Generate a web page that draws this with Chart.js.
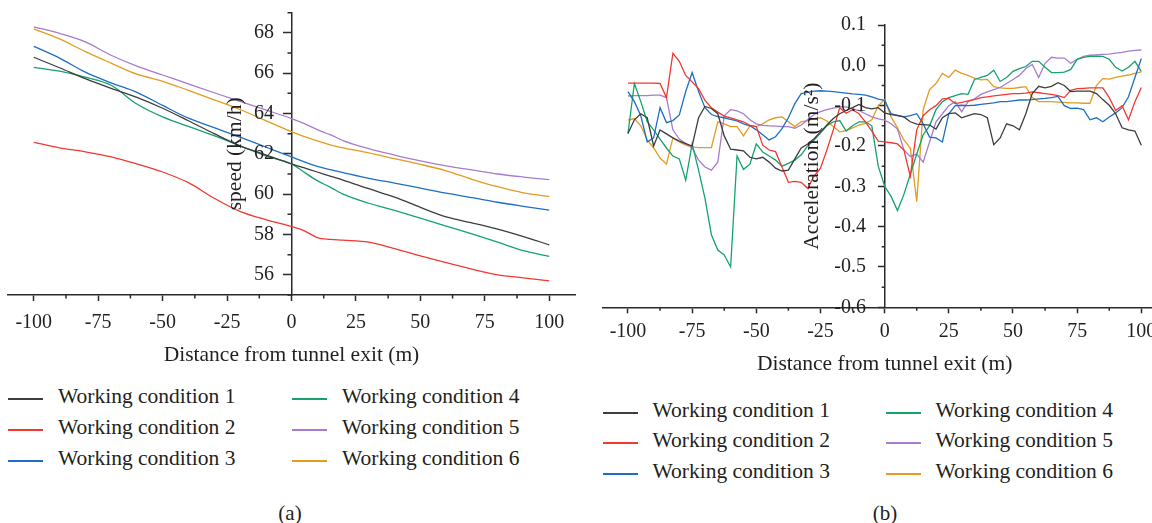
<!DOCTYPE html>
<html><head><meta charset="utf-8">
<script src="https://cdn.jsdelivr.net/npm/chart.js@4.4.1/dist/chart.umd.min.js"></script>
<style>
html,body{margin:0;padding:0;background:#fff;overflow:hidden;width:1152px;height:523px;}
#wrap{position:relative;width:1152px;height:523px;overflow:hidden;font-family:"Liberation Serif","Times New Roman",serif;color:#231f20;}
canvas{position:absolute;top:0;}
#ca{left:0;}
#cb{left:595px;}
.li{position:absolute;white-space:nowrap;font-size:21.5px;line-height:24px;height:24px;}
.li .sw{position:absolute;left:0;top:11px;width:35px;height:2px;}
.li .tx{position:absolute;left:50px;top:-3px;}
.cap{position:absolute;font-size:21px;line-height:24px;transform:translateX(-50%);}
</style></head>
<body><div id="wrap">
<canvas id="ca" width="580" height="370"></canvas>
<canvas id="cb" width="580" height="380"></canvas>
<div id="legA"></div><div id="legB"></div>
<div class="cap" style="left:290px;top:501px;">(a)</div>
<div class="cap" style="left:885px;top:501px;">(b)</div>
</div>
<script>
// ---------- data ----------
const seriesNames = ['Working condition 1','Working condition 2','Working condition 3','Working condition 4','Working condition 5','Working condition 6'];
const seriesColors = ['#3d3d3d','#f2382f','#1e6ec4','#13a36b','#a67ccf','#e39b20'];
const xTicks = [-100,-75,-50,-25,0,25,50,75,100];
const speedTicks = [56,58,60,62,64,66,68];
const accTicks = [-0.6,-0.5,-0.4,-0.3,-0.2,-0.1,0.0,0.1];

const distA = [-100,-90,-80,-70,-60,-50,-40,-30,-20,-10,0,5,10,15,20,30,40,50,60,70,80,90,100];
const speed1 = [66.79,66.27,65.73,65.25,64.8,64.26,63.64,63.0,62.4,61.95,61.5,61.3,61.1,60.9,60.7,60.27,59.85,59.35,58.87,58.58,58.27,57.9,57.49];
const speed2 = [62.57,62.3,62.1,61.85,61.5,61.1,60.57,59.8,59.15,58.74,58.4,58.18,57.85,57.76,57.72,57.62,57.3,56.94,56.6,56.28,56.0,55.85,55.7];
const speed3 = [67.33,66.75,66.05,65.52,65.05,64.4,63.77,63.3,62.83,62.34,61.85,61.6,61.38,61.22,61.07,60.78,60.55,60.3,60.05,59.83,59.6,59.4,59.21];
const speed4 = [66.29,66.1,65.8,65.4,64.47,63.83,63.36,62.9,62.4,61.9,61.5,61.08,60.67,60.35,60.0,59.55,59.2,58.81,58.42,58.03,57.62,57.2,56.91];
const speed5 = [68.3,67.97,67.55,66.89,66.35,65.91,65.47,65.03,64.6,64.18,63.75,63.5,63.2,62.95,62.66,62.26,61.94,61.65,61.4,61.2,61.0,60.85,60.72];
const speed6 = [68.2,67.7,67.07,66.5,65.95,65.6,65.15,64.68,64.2,63.65,63.1,62.85,62.64,62.45,62.3,62.05,61.76,61.48,61.16,60.74,60.37,60.07,59.89];

const distB = [-100,-97.5,-95,-92.5,-90,-87.5,-85,-82.5,-80,-77.5,
  -75,-72.5,-70,-67.5,-65,-62.5,-60,-57.5,-55,-52.5,
  -50,-47.5,-45,-42.5,-40,-37.5,-35,-32.5,-30,-27.5,
  -25,-22.5,-20,-17.5,-15,-12.5,-10,-7.5,-5,-2.5,
  0,2.5,5,7.5,10,12.5,15,17.5,20,22.5,
  25,27.5,30,32.5,35,37.5,40,42.5,45,47.5,
  50,52.5,55,57.5,60,62.5,65,67.5,70,72.5,
  75,77.5,80,82.5,85,87.5,90,92.5,95,97.5,100];
const acc1 = [-0.169,-0.135,-0.12,-0.13,-0.2,-0.16,-0.17,-0.18,-0.188,-0.194,
  -0.2,-0.13,-0.102,-0.107,-0.12,-0.175,-0.208,-0.21,-0.212,-0.228,
  -0.232,-0.228,-0.24,-0.255,-0.262,-0.26,-0.232,-0.205,-0.195,-0.182,
  -0.165,-0.148,-0.132,-0.12,-0.112,-0.105,-0.097,-0.105,-0.108,-0.105,
  -0.118,-0.122,-0.124,-0.128,-0.14,-0.146,-0.147,-0.148,-0.158,-0.13,
  -0.12,-0.118,-0.13,-0.125,-0.12,-0.122,-0.13,-0.197,-0.18,-0.145,
  -0.15,-0.16,-0.12,-0.07,-0.052,-0.056,-0.052,-0.043,-0.05,-0.065,
  -0.064,-0.064,-0.064,-0.07,-0.085,-0.099,-0.12,-0.155,-0.16,-0.163,-0.198];
const acc2 = [-0.044,-0.044,-0.044,-0.044,-0.044,-0.045,-0.08,0.03,0.01,-0.025,
  -0.041,-0.058,-0.087,-0.105,-0.116,-0.126,-0.13,-0.135,-0.14,-0.149,
  -0.152,-0.198,-0.21,-0.214,-0.252,-0.29,-0.288,-0.29,-0.305,-0.275,
  -0.255,-0.21,-0.16,-0.105,-0.119,-0.11,-0.12,-0.14,-0.163,-0.188,
  -0.19,-0.192,-0.195,-0.21,-0.275,-0.16,-0.125,-0.11,-0.1,-0.083,
  -0.082,-0.095,-0.092,-0.088,-0.085,-0.08,-0.078,-0.076,-0.074,-0.072,
  -0.07,-0.07,-0.069,-0.066,-0.068,-0.07,-0.072,-0.075,-0.08,-0.062,
  -0.058,-0.057,-0.056,-0.056,-0.056,-0.08,-0.112,-0.1,-0.135,-0.09,-0.055];
const acc3 = [-0.065,-0.09,-0.125,-0.19,-0.18,-0.105,-0.142,-0.137,-0.123,-0.065,
  -0.018,-0.065,-0.105,-0.122,-0.127,-0.13,-0.134,-0.138,-0.145,-0.15,
  -0.16,-0.172,-0.185,-0.177,-0.157,-0.13,-0.095,-0.07,-0.067,-0.064,
  -0.063,-0.064,-0.065,-0.067,-0.069,-0.071,-0.072,-0.074,-0.078,-0.084,
  -0.087,-0.12,-0.125,-0.128,-0.125,-0.12,-0.145,-0.178,-0.18,-0.19,
  -0.12,-0.1,-0.099,-0.1,-0.099,-0.097,-0.095,-0.093,-0.09,-0.09,
  -0.088,-0.086,-0.086,-0.085,-0.083,-0.082,-0.08,-0.077,-0.1,-0.107,
  -0.106,-0.11,-0.135,-0.13,-0.14,-0.128,-0.118,-0.105,-0.078,-0.03,0.017];
const acc4 = [-0.169,-0.045,-0.09,-0.14,-0.16,-0.183,-0.205,-0.225,-0.232,-0.285,
  -0.195,-0.26,-0.33,-0.42,-0.458,-0.47,-0.5,-0.225,-0.258,-0.245,
  -0.195,-0.215,-0.225,-0.235,-0.25,-0.243,-0.235,-0.222,-0.2,-0.185,
  -0.168,-0.15,-0.14,-0.137,-0.163,-0.15,-0.14,-0.14,-0.15,-0.25,
  -0.3,-0.325,-0.36,-0.32,-0.27,-0.22,-0.172,-0.15,-0.11,-0.09,
  -0.08,-0.075,-0.07,-0.072,-0.035,-0.03,-0.025,-0.012,-0.04,-0.03,
  -0.015,-0.008,-0.003,0.01,0.01,-0.005,-0.018,-0.018,-0.017,-0.01,
  0.015,0.02,0.022,0.023,0.022,0.015,-0.005,-0.014,-0.005,0.01,-0.015];
const acc5 = [-0.076,-0.075,-0.075,-0.075,-0.074,-0.074,-0.08,-0.16,-0.183,-0.194,
  -0.205,-0.235,-0.252,-0.26,-0.24,-0.125,-0.11,-0.113,-0.12,-0.135,
  -0.145,-0.149,-0.15,-0.151,-0.152,-0.152,-0.156,-0.148,-0.135,-0.122,
  -0.115,-0.11,-0.106,-0.103,-0.103,-0.108,-0.112,-0.12,-0.128,-0.133,
  -0.136,-0.145,-0.158,-0.21,-0.226,-0.22,-0.24,-0.19,-0.14,-0.12,
  -0.1,-0.09,-0.115,-0.09,-0.083,-0.072,-0.066,-0.06,-0.055,-0.045,
  -0.035,-0.025,-0.008,0.002,-0.03,0.005,0.02,0.018,0.018,0.005,
  0.015,0.022,0.025,0.026,0.027,0.028,0.03,0.032,0.035,0.037,0.038];
const acc6 = [-0.136,-0.132,-0.15,-0.185,-0.205,-0.23,-0.245,-0.18,-0.19,-0.198,
  -0.202,-0.204,-0.204,-0.204,-0.14,-0.145,-0.152,-0.152,-0.175,-0.15,
  -0.152,-0.145,-0.135,-0.13,-0.128,-0.14,-0.152,-0.14,-0.137,-0.132,
  -0.13,-0.138,-0.152,-0.165,-0.162,-0.155,-0.148,-0.144,-0.135,-0.1,
  -0.085,-0.128,-0.155,-0.185,-0.205,-0.338,-0.11,-0.06,-0.045,-0.02,
  -0.03,-0.012,-0.02,-0.025,-0.032,-0.036,-0.035,-0.053,-0.056,-0.057,
  -0.057,-0.055,-0.053,-0.08,-0.09,-0.09,-0.09,-0.091,-0.092,-0.093,
  -0.093,-0.094,-0.094,-0.05,-0.033,-0.034,-0.03,-0.027,-0.024,-0.02,-0.016];

// ---------- helpers ----------
const TXT = '#231f20', AX = '#2a2a2a';
const SERIF = '"Liberation Serif","Times New Roman",serif';

function makeDatasets(dist, arrays, smooth) {
  return arrays.map((arr, i) => ({
    label: seriesNames[i],
    data: dist.map((d, k) => ({x: d, y: arr[k]})),
    borderColor: seriesColors[i],
    backgroundColor: seriesColors[i],
    borderWidth: 1.3,
    pointRadius: 0,
    fill: false,
    cubicInterpolationMode: smooth ? 'monotone' : 'default',
    tension: 0
  }));
}

// minor ticks, y tick labels (left of a centred axis) and axis titles
const axisExtras = {
  id: 'axisExtras',
  afterDraw(chart, args, o) {
    const {ctx, chartArea} = chart;
    const xs = chart.scales.x, ys = chart.scales.y;
    const x0 = xs.getPixelForValue(0);
    const mids = (vals, lo, hi) => {
      const out = [];
      const step = vals[1] - vals[0];
      const ext = [vals[0] - step, ...vals, vals[vals.length - 1] + step];
      for (let i = 0; i < ext.length - 1; i++) {
        const m = (ext[i] + ext[i + 1]) / 2;
        if (m >= lo - 1e-9 && m <= hi + 1e-9) out.push(m);
      }
      return out;
    };
    ctx.save();
    ctx.strokeStyle = AX; ctx.lineWidth = 1.5;
    ctx.beginPath();
    for (const m of mids(xs.ticks.map(t => t.value), xs.min, xs.max)) {
      const p = xs.getPixelForValue(m);
      ctx.moveTo(p, xs.top); ctx.lineTo(p, xs.top + o.minorX);
    }
    for (const m of mids(ys.ticks.map(t => t.value), ys.min, ys.max)) {
      const p = ys.getPixelForValue(m);
      ctx.moveTo(x0, p); ctx.lineTo(x0 - o.minorY, p);
    }
    ctx.stroke();
    ctx.fillStyle = TXT;
    // y tick labels
    ctx.font = '20px ' + SERIF;
    ctx.textAlign = 'right'; ctx.textBaseline = 'middle';
    ys.ticks.forEach(t => ctx.fillText(o.fmt(t.value), x0 - o.labelGap, ys.getPixelForValue(t.value)));
    // x title
    ctx.font = '21.5px ' + SERIF;
    ctx.textAlign = 'center';
    ctx.fillText(o.xTitle, (chartArea.left + chartArea.right) / 2, xs.top + o.xTitleOffset);
    // y title
    ctx.translate(x0 - o.titleOffset, (ys.top + ys.bottom) / 2);
    ctx.rotate(-Math.PI / 2);
    ctx.fillText(o.title, 0, 0);
    ctx.restore();
  }
};

function makeChart(id, dist, arrays, smooth, yCfg, extras, layoutPad, xPad) {
  return new Chart(document.getElementById(id), {
    type: 'line',
    data: {datasets: makeDatasets(dist, arrays, smooth)},
    plugins: [axisExtras],
    options: {
      responsive: false,
      animation: false,
      events: [],
      layout: {padding: layoutPad},
      plugins: {legend: {display: false}, tooltip: {enabled: false}, axisExtras: Object.assign({fmt: yCfg.fmt}, extras)},
      scales: {
        x: {
          type: 'linear', position: 'bottom', min: -110, max: 110,
          afterBuildTicks: s => { s.ticks = xTicks.map(v => ({value: v})); },
          ticks: {color: TXT, font: {family: SERIF, size: 20}, padding: xPad, maxRotation: 0, autoSkip: false},
          grid: {drawOnChartArea: false, drawTicks: true, tickLength: 6, tickWidth: 1.5, tickColor: AX},
          border: {display: true, color: AX, width: 1.5},
          title: {display: false}
        },
        y: {
          type: 'linear', position: {x: 0}, min: yCfg.min, max: yCfg.max,
          afterBuildTicks: s => { s.ticks = yCfg.ticks.map(v => ({value: v})); },
          afterFit: s => { s.paddingTop = 0; s.paddingBottom = 0; },
          ticks: {display: false},
          grid: {drawOnChartArea: false, drawTicks: true, tickLength: yCfg.tl, tickWidth: 1.5, tickColor: AX},
          border: {display: true, color: AX, width: 1.5}
        }
      }
    }
  });
}

const chartA = makeChart('ca', distA, [speed1, speed2, speed3, speed4, speed5, speed6], true,
  {min: 55, max: 69, ticks: speedTicks, tl: 8, fmt: v => String(v)},
  {title: 'speed (km/h)', titleOffset: 56, labelGap: 17.5, minorX: 3.5, minorY: 4,
   xTitle: 'Distance from tunnel exit (m)', xTitleOffset: 60},
  {left: 8, right: 5, top: 12.7, bottom: 25},
  10);

const chartB = makeChart('cb', distB, [acc1, acc2, acc3, acc4, acc5, acc6], false,
  {min: -0.6, max: 0.1, ticks: accTicks, tl: 6, fmt: v => Number(v).toFixed(1)},
  {title: 'Acceleration (m/s\u00B2)', titleOffset: 72, labelGap: 18.7, minorX: 3.5, minorY: 3,
   xTitle: 'Distance from tunnel exit (m)', xTitleOffset: 57.5},
  {left: 7.3, right: 8, top: 25, bottom: 30.7},
  6);

// ---------- HTML legends built from chart datasets ----------
function buildLegend(chart, hostId, left, top, colGap, rowGap) {
  const host = document.getElementById(hostId);
  chart.data.datasets.forEach((ds, i) => {
    const col = Math.floor(i / 3), row = i % 3;
    const item = document.createElement('div');
    item.className = 'li';
    item.style.left = (left + col * colGap) + 'px';
    item.style.top = (top + row * rowGap) + 'px';
    const sw = document.createElement('div');
    sw.className = 'sw'; sw.style.background = ds.borderColor;
    const tx = document.createElement('span');
    tx.className = 'tx'; tx.textContent = ds.label;
    item.appendChild(sw); item.appendChild(tx);
    host.appendChild(item);
  });
}
buildLegend(chartA, 'legA', 8, 387.3, 284, 31);
buildLegend(chartB, 'legB', 602.5, 400.5, 283, 30.5);
</script>
</body></html>
